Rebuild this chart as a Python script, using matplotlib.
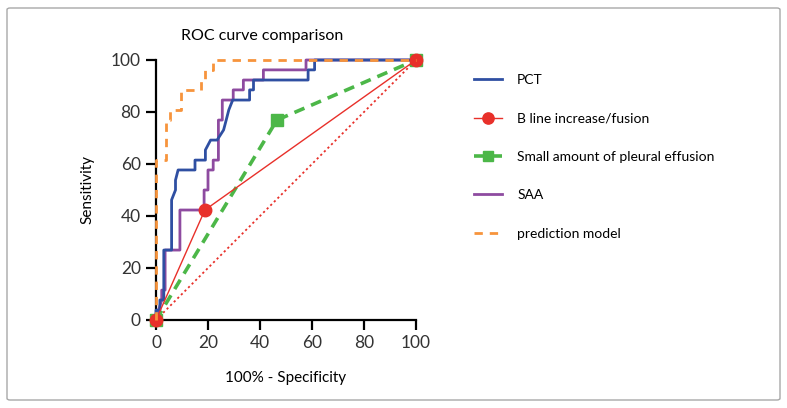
# ROC curve comparison
import matplotlib
matplotlib.use("Agg")
import matplotlib.pyplot as plt
from matplotlib.patches import FancyBboxPatch

plt.rcParams['font.family'] = ['Lato', 'DejaVu Sans']

# 100% - Specificity (x) and Sensitivity (y) for each curve
pct_x = [0, 0, 1.5, 1.5, 3, 3, 6, 6, 7.5, 7.5, 8.5, 15, 15, 19, 19, 21, 23.5, 26, 27, 28, 29.5,
         36, 36, 37.5, 37.5, 58.5, 58.5, 61, 61, 100]
pct_y = [0, 3.8, 3.8, 7.7, 7.7, 26.9, 26.9, 46.2, 50, 53.8, 57.7, 57.7, 61.5, 61.5, 65.4, 69.2,
         69.2, 73.1, 76.9, 80.8, 84.6, 84.6, 88.5, 88.5, 92.3, 92.3, 96.2, 96.2, 100, 100]

bline_x = [0, 18.8, 100]
bline_y = [0, 42.3, 100]

pleural_x = [0, 46.5, 100]
pleural_y = [0, 76.9, 100]

saa_x = [0, 1, 2.2, 2.2, 3.5, 3.5, 9.2, 9.2, 18.5, 18.5, 20, 20, 22, 22, 24, 24, 25.5, 25.5,
         29.7, 29.7, 33.6, 33.6, 41.3, 41.3, 57.7, 57.7, 100]
saa_y = [0, 3.8, 7.7, 11.5, 11.5, 26.9, 26.9, 42.3, 42.3, 50, 50, 57.7, 57.7, 61.5, 61.5, 76.9,
         76.9, 84.6, 84.6, 88.5, 88.5, 92.3, 92.3, 96.2, 96.2, 100, 100]

model_x = [0, 0, 3.7, 3.7, 5.5, 5.5, 9.7, 9.7, 17.3, 17.3, 19, 19, 22, 22, 100]
model_y = [0, 61.5, 61.5, 76.9, 76.9, 80.8, 80.8, 88.5, 88.5, 92.3, 92.3, 96.2, 96.2, 100, 100]

ref_x = [0, 100]
ref_y = [0, 100]

c_blue = '#2f4fa2'
c_red = '#e8302a'
c_green = '#4cb748'
c_purple = '#8e4ba0'
c_orange = '#f7943c'

fig = plt.figure(figsize=(7.87, 4.08), dpi=100)
ax = fig.add_axes([156 / 787, 88 / 408, 260 / 787, 260 / 408])

# outer frame
fig.patches.append(FancyBboxPatch((7 / 787, 8 / 408), 773 / 787, 392 / 408,
                                  boxstyle='round,pad=0,rounding_size=0.004',
                                  transform=fig.transFigure, fill=False,
                                  edgecolor='#a8a8a8', linewidth=1))

ax.plot(ref_x, ref_y, color=c_red, lw=1.3, ls=(0, (1.2, 1.6)), clip_on=False, zorder=2)
ax.plot(pleural_x, pleural_y, color=c_green, lw=2.6, ls=(0, (3, 2)), marker='s', ms=8,
        clip_on=False, zorder=3, label='Small amount of pleural effusion')
ax.plot(bline_x, bline_y, color=c_red, lw=1.0, marker='o', ms=9, clip_on=False, zorder=4,
        label='B line increase/fusion')
ax.plot(saa_x, saa_y, color=c_purple, lw=2.0, clip_on=False, zorder=3, label='SAA')
ax.plot(pct_x, pct_y, color=c_blue, lw=2.0, clip_on=False, zorder=3, label='PCT')
ax.plot(model_x, model_y, color=c_orange, lw=2.0, ls=(0, (3, 2.5)), clip_on=False, zorder=5,
        label='prediction model')

ax.set_xlim(0, 100)
ax.set_ylim(0, 100)
ax.set_xticks(range(0, 101, 20))
ax.set_yticks(range(0, 101, 20))
for s in ['top', 'right']:
    ax.spines[s].set_visible(False)
for s in ['left', 'bottom']:
    ax.spines[s].set_linewidth(1.6)
ax.tick_params(width=1.6, length=7, labelsize=12.5, color='black', labelcolor='#333333', pad=4)

ax.set_xlabel('100% - Specificity', fontsize=11, labelpad=14)
ax.set_ylabel('Sensitivity', fontsize=11, labelpad=12)
fig.text(262 / 787, 1 - 36 / 408, 'ROC curve comparison', ha='center', va='center', fontsize=11.5)

h, l = ax.get_legend_handles_labels()
order = ['PCT', 'B line increase/fusion', 'Small amount of pleural effusion', 'SAA', 'prediction model']
hl = dict(zip(l, h))
ax.legend([hl[k] for k in order], order, loc='upper left',
          bbox_to_anchor=(474 / 787, 1 - 74 / 408), bbox_transform=fig.transFigure,
          frameon=False, fontsize=10, handlelength=2.0, handletextpad=1.1,
          labelspacing=1.9, borderpad=0, borderaxespad=0, markerscale=0.9)

fig.savefig('out.png', dpi=100)
